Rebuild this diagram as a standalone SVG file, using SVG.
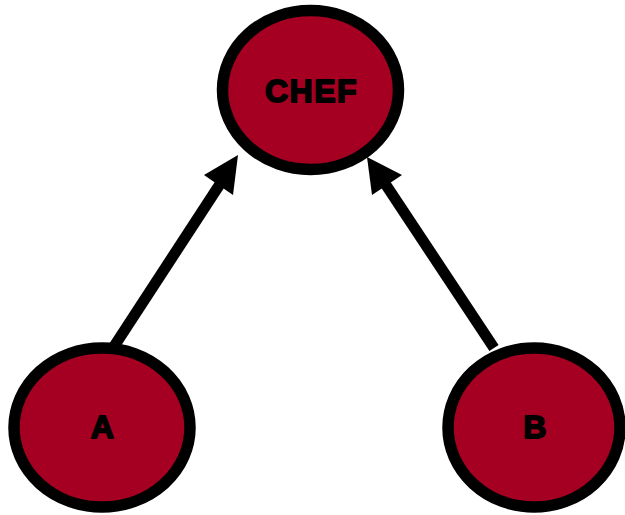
<svg xmlns="http://www.w3.org/2000/svg" width="625" height="515" viewBox="0 0 625 515">
<style>
.node{fill:#a50021;stroke:#000;stroke-width:11.5}
.lbl{font-family:"Liberation Sans",Arial,sans-serif;font-weight:bold;font-size:32px;fill:#000;stroke:#000;stroke-width:1.8;stroke-linejoin:round;text-anchor:middle;letter-spacing:1.5px}
.shaft{stroke:#000;stroke-width:11;fill:none}
.head{fill:#000}
</style>
<rect width="625" height="515" fill="#fff"/>
<g id="connectors">
<line class="shaft" x1="113" y1="348" x2="222" y2="181"/>
<polygon class="head" points="238,155 204,175 233,195"/>
<line class="shaft" x1="494" y1="348" x2="384" y2="182"/>
<polygon class="head" points="367,157 402,175 372,195"/>
</g>
<g id="node-chef">
<ellipse class="node" cx="310.5" cy="90" rx="88" ry="79.5"/>
<text class="lbl" x="311.5" y="102">CHEF</text>
</g>
<g id="node-a">
<ellipse class="node" cx="102" cy="427.5" rx="88" ry="79.5"/>
<text class="lbl" x="103" y="438">A</text>
</g>
<g id="node-b">
<ellipse class="node" cx="534" cy="427.5" rx="86" ry="79.5"/>
<text class="lbl" x="535.5" y="438">B</text>
</g>
</svg>
